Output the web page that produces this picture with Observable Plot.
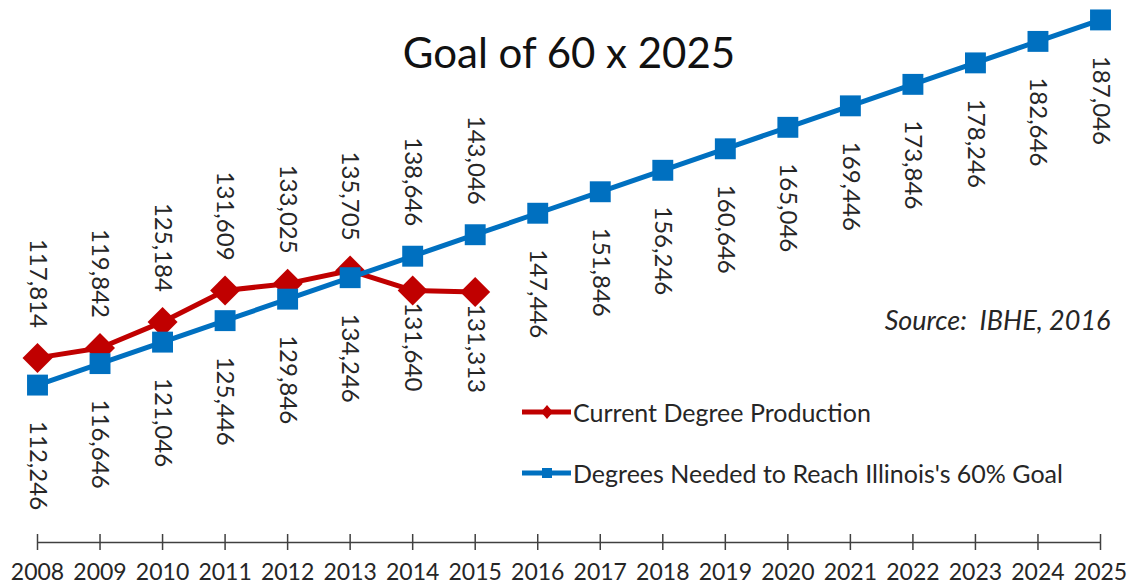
<!DOCTYPE html>
<html>
<head>
<meta charset="utf-8">
<script src="https://cdn.jsdelivr.net/npm/d3@7"></script>
<script src="https://cdn.jsdelivr.net/npm/@observablehq/plot@0.6"></script>
<style>
  body { margin: 0; background: #fff; font-family: Lato, "Noto Sans", sans-serif; }
  #wrap { position: relative; width: 1129px; height: 586px; }
  .leg { position: absolute; left: 522px; height: 26px; display: flex; align-items: center;
         font-size: 25px; color: #262626; white-space: nowrap; line-height: 26px; }
  .leg svg { display: block; }
</style>
</head>
<body>
<div id="wrap"></div>
<script>
// ---- data ----
const years = [2008, 2009, 2010, 2011, 2012, 2013, 2014, 2015, 2016, 2017, 2018, 2019, 2020, 2021, 2022, 2023, 2024, 2025];
const currentYears = [2008, 2009, 2010, 2011, 2012, 2013, 2014, 2015];
const currentDegrees = [117814, 119842, 125184, 131609, 133025, 135705, 131640, 131313];
const neededDegrees = [112246, 116646, 121046, 125446, 129846, 134246, 138646, 143046, 147446, 151846, 156246, 160646, 165046, 169446, 173846, 178246, 182646, 187046];
const seriesNames = ["Current Degree Production", "Degrees Needed to Reach Illinois's 60% Goal"];
const titleText = "Goal of 60 x 2025";
const sourceText = "Source:  IBHE, 2016";
const yDomain = [80000, 190000];

const RED = "#C00000", BLUE = "#0070C0", INK = "#262626";
const fmt = d3.format(",");

const red = currentYears.map((y, i) => ({year: y, value: currentDegrees[i], above: currentDegrees[i] > neededDegrees[i]}));
const blue = years.map((y, i) => {
  const c = currentDegrees[i];
  return {year: y, value: neededDegrees[i], above: c != null && c < neededDegrees[i]};
});

const labelOpts = {x: "year", y: "value", text: d => fmt(d.value), rotate: 90, lineAnchor: "middle", fontSize: 24, fill: INK};

const chart = Plot.plot({
  width: 1129,
  height: 586,
  marginTop: 5,
  marginBottom: 44,
  marginLeft: 37,
  marginRight: 29,
  style: {fontFamily: "Lato, 'Noto Sans', sans-serif", background: "transparent", overflow: "visible"},
  x: {domain: [years[0], years[years.length - 1]], axis: null},
  y: {domain: yDomain, axis: null},
  marks: [
    Plot.ruleY([yDomain[0]], {stroke: "#404040", strokeWidth: 1.5}),
    Plot.ruleX(years, {x: d => d, stroke: "#404040", strokeWidth: 1.5, insetTop: 529, insetBottom: -8}),
    Plot.axisX(years, {tickSize: 0, tickPadding: 21, tickFormat: d => String(d), fontSize: 23, fill: INK, label: null}),
    Plot.text([titleText], {frameAnchor: "top", text: d => d, dy: 49, lineAnchor: "middle", fontSize: 42, fill: "#111"}),
    Plot.text([sourceText], {frameAnchor: "top-right", text: d => d, dx: 10, dy: 316, lineAnchor: "middle", fontSize: 27, fontStyle: "italic", fill: INK}),
    // red series
    Plot.line(red, {x: "year", y: "value", stroke: RED, strokeWidth: 5}),
    Plot.text(red.filter(d => d.above), {...labelOpts, textAnchor: "end", dy: -30}),
    Plot.text(red.filter(d => !d.above), {...labelOpts, textAnchor: "start", dy: 12}),
    Plot.dot(red, {x: "year", y: "value", symbol: "diamond2", r: 13.5, fill: RED, stroke: "none"}),
    // blue series
    Plot.line(blue, {x: "year", y: "value", stroke: BLUE, strokeWidth: 5}),
    Plot.dot(blue, {x: "year", y: "value", symbol: "square", r: 11.8, fill: BLUE, stroke: "none"}),
    Plot.text(blue.filter(d => d.above), {...labelOpts, textAnchor: "end", dy: -30}),
    Plot.text(blue.filter(d => !d.above), {...labelOpts, textAnchor: "start", dy: 36})
  ]
});

const wrap = document.getElementById("wrap");
wrap.appendChild(chart);

// legend (overlay inside plot area, as in the reference)
const legendItems = [
  {name: seriesNames[0], color: RED, top: 399, marker: '<path d="M25,6 L31,13 L25,20 L19,13 Z" fill="' + RED + '"/>'},
  {name: seriesNames[1], color: BLUE, top: 460, marker: '<rect x="20" y="8" width="10" height="10" fill="' + BLUE + '"/>'}
];
legendItems.forEach(it => {
  const div = document.createElement("div");
  div.className = "leg";
  div.style.top = it.top + "px";
  div.innerHTML = '<svg width="51" height="26"><line x1="0" y1="13" x2="49" y2="13" stroke="' + it.color + '" stroke-width="5"/>' + it.marker + '</svg><span></span>';
  div.querySelector("span").textContent = it.name;
  wrap.appendChild(div);
});
</script>
</body>
</html>
